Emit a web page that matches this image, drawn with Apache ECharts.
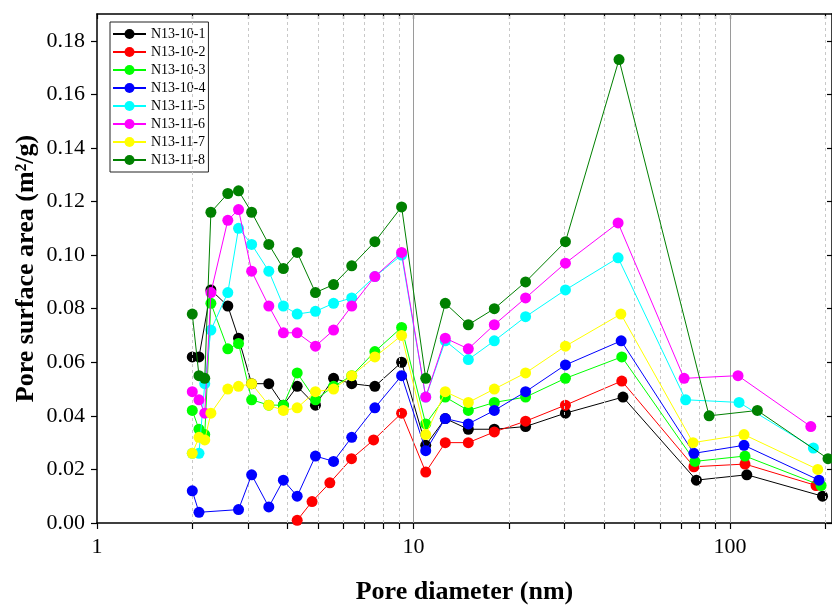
<!DOCTYPE html>
<html>
<head>
<meta charset="utf-8">
<script src="https://cdn.jsdelivr.net/npm/echarts@6/dist/echarts.min.js"></script>
<style>
  html, body { margin: 0; padding: 0; background: #fff; }
  #chart { width: 832px; height: 606px; }
</style>
</head>
<body>
<div id="chart"></div>
<script>
// Pore diameter (nm) and BJH surface area (m2/g) for each sample
const diam_10_1 = [2.0, 2.1, 2.29, 2.59, 2.8, 3.08, 3.49, 3.88, 4.29, 4.9, 5.59, 6.38, 7.55, 9.17, 10.93, 12.6, 14.9, 18.0, 22.6, 30.2, 45.9, 78.3, 113, 196];
const area_10_1 = [0.062, 0.062, 0.087, 0.081, 0.069, 0.052, 0.052, 0.044, 0.051, 0.044, 0.054, 0.052, 0.051, 0.060, 0.029, 0.039, 0.035, 0.035, 0.036, 0.041, 0.047, 0.016, 0.018, 0.010];

const diam_10_2 = [4.29, 4.78, 5.44, 6.37, 7.48, 9.17, 10.93, 12.6, 14.9, 18.0, 22.6, 30.2, 45.5, 76.9, 111.5, 187];
const area_10_2 = [0.001, 0.008, 0.015, 0.024, 0.031, 0.041, 0.019, 0.030, 0.030, 0.034, 0.038, 0.044, 0.053, 0.021, 0.022, 0.014];

const diam_10_3 = [2.0, 2.1, 2.19, 2.29, 2.59, 2.8, 3.08, 3.49, 3.88, 4.29, 4.9, 5.59, 6.38, 7.55, 9.17, 10.93, 12.6, 14.9, 18.0, 22.6, 30.2, 45.5, 77.5, 111.5, 194];
const area_10_3 = [0.042, 0.035, 0.033, 0.082, 0.065, 0.067, 0.046, 0.044, 0.044, 0.056, 0.046, 0.051, 0.055, 0.064, 0.073, 0.037, 0.047, 0.042, 0.045, 0.047, 0.054, 0.062, 0.023, 0.025, 0.014];

const diam_10_4 = [2.0, 2.1, 2.8, 3.08, 3.49, 3.88, 4.29, 4.9, 5.59, 6.38, 7.55, 9.17, 10.93, 12.6, 14.9, 18.0, 22.6, 30.2, 45.3, 76.9, 110.7, 191];
const area_10_4 = [0.012, 0.004, 0.005, 0.018, 0.006, 0.016, 0.010, 0.025, 0.023, 0.032, 0.043, 0.055, 0.027, 0.039, 0.037, 0.042, 0.049, 0.059, 0.068, 0.026, 0.029, 0.016];

const diam_11_5 = [2.0, 2.1, 2.19, 2.29, 2.59, 2.8, 3.08, 3.49, 3.88, 4.29, 4.9, 5.59, 6.38, 7.55, 9.17, 10.93, 12.6, 14.9, 18.0, 22.6, 30.2, 44.3, 72.4, 106.8, 183.4];
const area_11_5 = [0.026, 0.026, 0.052, 0.072, 0.086, 0.110, 0.104, 0.094, 0.081, 0.078, 0.079, 0.082, 0.084, 0.092, 0.100, 0.047, 0.068, 0.061, 0.068, 0.077, 0.087, 0.099, 0.046, 0.045, 0.028];

const diam_11_6 = [2.0, 2.1, 2.19, 2.29, 2.59, 2.8, 3.08, 3.49, 3.88, 4.29, 4.9, 5.59, 6.38, 7.55, 9.17, 10.93, 12.6, 14.9, 18.0, 22.6, 30.2, 44.3, 71.6, 106, 180];
const area_11_6 = [0.049, 0.046, 0.041, 0.086, 0.113, 0.117, 0.094, 0.081, 0.071, 0.071, 0.066, 0.072, 0.081, 0.092, 0.101, 0.047, 0.069, 0.065, 0.074, 0.084, 0.097, 0.112, 0.054, 0.055, 0.036];

const diam_11_7 = [2.0, 2.1, 2.19, 2.29, 2.59, 2.8, 3.08, 3.49, 3.88, 4.29, 4.9, 5.59, 6.38, 7.55, 9.17, 10.93, 12.6, 14.9, 18.0, 22.6, 30.2, 45.2, 76.4, 110.7, 189.3];
const area_11_7 = [0.026, 0.032, 0.031, 0.041, 0.050, 0.051, 0.052, 0.044, 0.042, 0.043, 0.049, 0.050, 0.055, 0.062, 0.070, 0.033, 0.049, 0.045, 0.050, 0.056, 0.066, 0.078, 0.030, 0.033, 0.020];

const diam_11_8 = [2.0, 2.1, 2.19, 2.29, 2.59, 2.8, 3.08, 3.49, 3.88, 4.29, 4.9, 5.59, 6.38, 7.55, 9.17, 10.93, 12.6, 14.9, 18.0, 22.6, 30.2, 44.6, 85.9, 122, 204];
const area_11_8 = [0.078, 0.055, 0.054, 0.116, 0.123, 0.124, 0.116, 0.104, 0.095, 0.101, 0.086, 0.089, 0.096, 0.105, 0.118, 0.054, 0.082, 0.074, 0.080, 0.090, 0.105, 0.173, 0.040, 0.042, 0.024];

const sampleNames = ['N13-10-1', 'N13-10-2', 'N13-10-3', 'N13-10-4', 'N13-11-5', 'N13-11-6', 'N13-11-7', 'N13-11-8'];
const sampleColors = ['#000000', '#ff0000', '#00ff00', '#0000ff', '#00ffff', '#ff00ff', '#ffff00', '#008000'];
const diameters = [diam_10_1, diam_10_2, diam_10_3, diam_10_4, diam_11_5, diam_11_6, diam_11_7, diam_11_8];
const areas = [area_10_1, area_10_2, area_10_3, area_10_4, area_11_5, area_11_6, area_11_7, area_11_8];

// Axis ticks and reference lines
const xTickValues = [1, 2, 3, 4, 5, 6, 7, 8, 9, 10, 20, 30, 40, 50, 60, 70, 80, 90, 100, 200];
const xLabelValues = [1, 10, 100];
const yTickValues = [0, 0.02, 0.04, 0.06, 0.08, 0.10, 0.12, 0.14, 0.16, 0.18];
const dashedGridX = [2, 3, 4, 5, 6, 7, 8, 9, 20, 30, 40, 50, 60, 70, 80, 90, 200];
const solidGridX = [10, 100];

const SERIF = '"Liberation Serif", "Times New Roman", serif';
const X_MIN = 1, X_MAX = 210, Y_MIN = 0, Y_MAX = 0.19;

const chart = echarts.init(document.getElementById('chart'), null, { renderer: 'canvas' });

const series = [{
  name: 'gridlines',
  type: 'line',
  data: [],
  silent: true,
  xAxisIndex: 0,
  yAxisIndex: 0,
  markLine: {
    silent: true,
    symbol: 'none',
    label: { show: false },
    animation: false,
    data: dashedGridX.map(v => ({ xAxis: v, lineStyle: { color: '#c8c8c8', width: 1, type: [3, 3] } }))
      .concat(solidGridX.map(v => ({ xAxis: v, lineStyle: { color: '#9a9a9a', width: 1, type: 'solid' } })))
  }
}];

sampleNames.forEach((name, i) => {
  series.push({
    name: name,
    type: 'line',
    xAxisIndex: 0,
    yAxisIndex: 0,
    data: diameters[i].map((d, k) => [d, areas[i][k]]),
    symbol: 'circle',
    symbolSize: 11,
    showSymbol: true,
    showAllSymbol: true,
    connectNulls: true,
    lineStyle: { color: sampleColors[i], width: 1 },
    itemStyle: { color: sampleColors[i], borderWidth: 0 },
    emphasis: { disabled: true },
    z: 3 + i
  });
});

const option = {
  animation: false,
  backgroundColor: '#ffffff',
  grid: { left: 97, right: 0, top: 14, bottom: 83, containLabel: false, outerBoundsMode: 'none' },
  legend: {
    data: sampleNames,
    orient: 'vertical',
    left: 110,
    top: 22,
    itemWidth: 33,
    itemHeight: 12.5,
    itemGap: 4,
    padding: [5, 3, 5, 2],
    borderColor: '#222',
    borderWidth: 1,
    backgroundColor: '#fff',
    selectedMode: false,
    textStyle: { fontFamily: SERIF, fontSize: 14, color: '#000' }
  },
  xAxis: [{
    type: 'log',
    logBase: 10,
    min: X_MIN,
    max: X_MAX,
    position: 'bottom',
    name: 'Pore diameter (nm)',
    nameLocation: 'middle',
    nameGap: 56,
    nameMoveOverlap: false,
    nameTextStyle: { fontFamily: SERIF, fontSize: 26, fontWeight: 'bold', color: '#000' },
    axisLine: { show: true, onZero: false, lineStyle: { color: '#000', width: 1.5 } },
    axisTick: { show: true, inside: false, length: 6, customValues: xTickValues, lineStyle: { color: '#000', width: 1.2 } },
    minorTick: { show: false },
    axisLabel: { show: true, customValues: xLabelValues, margin: 13, fontFamily: SERIF, fontSize: 22, color: '#000' },
    splitLine: { show: false }
  }, {
    type: 'log',
    logBase: 10,
    min: X_MIN,
    max: X_MAX,
    position: 'top',
    axisLine: { show: true, onZero: false, lineStyle: { color: '#000', width: 1.5 } },
    axisTick: { show: true, inside: true, length: 5, customValues: xTickValues, lineStyle: { color: '#000', width: 1.2 } },
    axisLabel: { show: false },
    splitLine: { show: false }
  }],
  yAxis: [{
    type: 'value',
    min: Y_MIN,
    max: Y_MAX,
    interval: 0.02,
    position: 'left',
    name: 'Pore surface area (m²/g)',
    nameLocation: 'middle',
    nameGap: 58,
    nameMoveOverlap: false,
    nameRotate: 90,
    nameTextStyle: { fontFamily: SERIF, fontSize: 26, fontWeight: 'bold', color: '#000' },
    axisLine: { show: true, onZero: false, lineStyle: { color: '#000', width: 1.5 } },
    axisTick: { show: true, inside: false, length: 6, customValues: yTickValues, lineStyle: { color: '#000', width: 1.2 } },
    axisLabel: {
      show: true,
      customValues: yTickValues,
      margin: 12,
      fontFamily: SERIF,
      fontSize: 22,
      color: '#000',
      formatter: v => v.toFixed(2)
    },
    splitLine: { show: false }
  }, {
    type: 'value',
    min: Y_MIN,
    max: Y_MAX,
    interval: 0.02,
    position: 'right',
    axisLine: { show: true, onZero: false, lineStyle: { color: '#000', width: 1.5 } },
    axisTick: { show: true, inside: true, length: 5, customValues: yTickValues, lineStyle: { color: '#000', width: 1.2 } },
    axisLabel: { show: false },
    splitLine: { show: false }
  }],
  series: series
};

chart.setOption(option);
</script>
</body>
</html>
